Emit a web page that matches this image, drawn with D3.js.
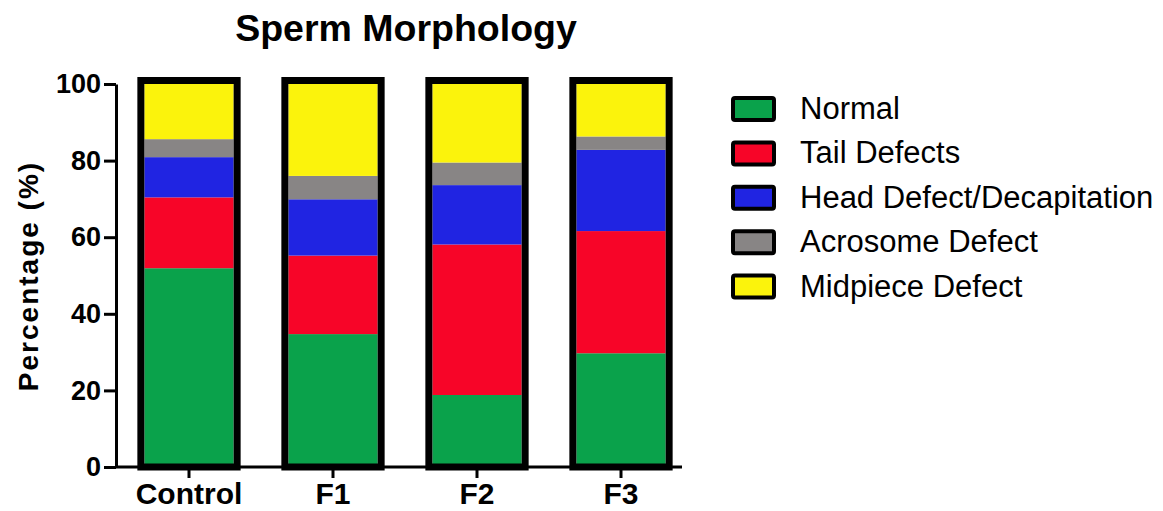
<!DOCTYPE html>
<html>
<head>
<meta charset="utf-8">
<script src="https://cdn.jsdelivr.net/npm/d3@7"></script>
<style>
  body { margin: 0; background: #fff; }
  text { font-family: "Liberation Sans", Arial, Helvetica, sans-serif; }
</style>
</head>
<body>
<script>
// data (percent of sperm, stacked bottom to top)
const groups = ["Control", "F1", "F2", "F3"];
const categories = ["Normal", "Tail Defects", "Head Defect/Decapitation", "Acrosome Defect", "Midpiece Defect"];
const normal   = [51.9, 34.7, 18.8, 29.7];
const tail     = [18.5, 20.5, 39.3, 31.9];
const head     = [10.5, 14.7, 15.5, 21.2];
const acrosome = [4.7, 6.1, 5.9, 3.5];
const midpiece = [14.4, 24.0, 20.5, 13.7];
const yTicks = [0, 20, 40, 60, 80, 100];
const colors = ["#0aa24b", "#f70528", "#2024e2", "#888585", "#fbf30c"];

const width = 1163, height = 511;

const svg = d3.select("body").append("svg")
  .attr("width", width)
  .attr("height", height);

// build rows for the stack
const series = [normal, tail, head, acrosome, midpiece];
const rows = groups.map((g, i) => {
  const r = {group: g};
  categories.forEach((c, k) => { r[c] = series[k][i]; });
  return r;
});
const stacked = d3.stack().keys(categories)(rows);

const x = d3.scaleBand().domain(groups).range([117, 693]).paddingInner(0.38).paddingOuter(0.19);
const y = d3.scaleLinear().domain([0, 100]).range([467, 84]);

// title
svg.append("text")
  .attr("x", 406).attr("y", 41)
  .attr("text-anchor", "middle")
  .style("font-size", "37.5px").style("font-weight", "bold")
  .text("Sperm Morphology");

// stacked fills
svg.append("g").selectAll("g")
  .data(stacked)
  .join("g")
  .attr("fill", (d, i) => colors[i])
  .selectAll("rect")
  .data(d => d)
  .join("rect")
  .attr("x", d => x(d.data.group))
  .attr("y", d => y(d[1]))
  .attr("width", x.bandwidth())
  .attr("height", d => y(d[0]) - y(d[1]));

// thick black outline round each bar
const bw = 7;
svg.append("g").selectAll("rect")
  .data(rows)
  .join("rect")
  .attr("x", d => x(d.group) - bw / 2)
  .attr("y", d => y(d3.sum(categories, c => d[c])) - bw / 2)
  .attr("width", x.bandwidth() + bw)
  .attr("height", d => y(0) - y(d3.sum(categories, c => d[c])) + bw / 2)
  .attr("fill", "none")
  .attr("stroke", "#000")
  .attr("stroke-width", bw);

// y axis
const yAxis = svg.append("g")
  .attr("transform", "translate(116,0)")
  .call(d3.axisLeft(y).tickValues(yTicks).tickSize(12).tickSizeOuter(0).tickPadding(3));
yAxis.select(".domain").attr("stroke-width", 3);
yAxis.selectAll(".tick line").attr("stroke-width", 3);
yAxis.selectAll(".tick text")
  .attr("fill", "#000")
  .style("font-size", "27px").style("font-weight", "bold")
  .style("font-family", "Liberation Sans, Arial, sans-serif");

// x axis
const xAxis = svg.append("g")
  .attr("transform", "translate(0,467)")
  .call(d3.axisBottom(x).tickSize(11).tickSizeOuter(0).tickPadding(5));
xAxis.select(".domain").remove();
xAxis.append("line")
  .attr("x1", 115).attr("x2", 682)
  .attr("stroke", "#000").attr("stroke-width", 3);
xAxis.selectAll(".tick line").attr("stroke-width", 3);
xAxis.selectAll(".tick text")
  .attr("fill", "#000")
  .style("font-size", "30px").style("font-weight", "bold")
  .style("font-family", "Liberation Sans, Arial, sans-serif");

// y axis title
svg.append("text")
  .attr("transform", "translate(38,276) rotate(-90)")
  .attr("text-anchor", "middle")
  .style("font-size", "28px").style("font-weight", "bold")
  .style("letter-spacing", "2px")
  .text("Percentage (%)");

// legend
const legend = svg.append("g").selectAll("g")
  .data(categories)
  .join("g")
  .attr("transform", (d, i) => "translate(733," + (109 + i * 44.4) + ")");
legend.append("rect")
  .attr("x", 0).attr("y", -11)
  .attr("width", 41).attr("height", 22)
  .attr("rx", 2)
  .attr("fill", (d, i) => colors[i])
  .attr("stroke", "#000")
  .attr("stroke-width", 4);
legend.append("text")
  .attr("x", 67).attr("y", 10)
  .style("font-size", "31px")
  .text(d => d);
</script>
</body>
</html>
